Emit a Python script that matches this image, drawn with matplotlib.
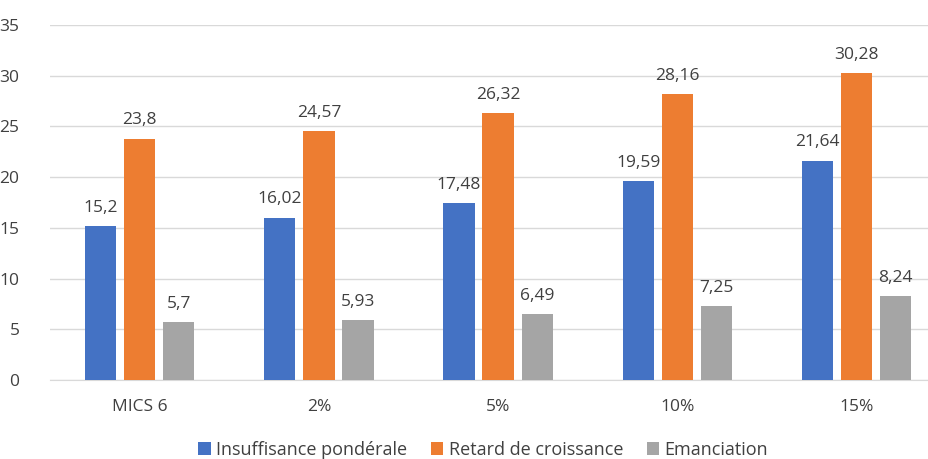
import numpy as np
import matplotlib.pyplot as plt

plt.rcParams['font.family'] = ['Open Sans', 'DejaVu Sans']

# data
categories = ['MICS 6', '2%', '5%', '10%', '15%']
insuffisance = [15.2, 16.02, 17.48, 19.59, 21.64]
retard = [23.8, 24.57, 26.32, 28.16, 30.28]
emanciation = [5.7, 5.93, 6.49, 7.25, 8.24]
labels_ins = ['15,2', '16,02', '17,48', '19,59', '21,64']
labels_ret = ['23,8', '24,57', '26,32', '28,16', '30,28']
labels_ema = ['5,7', '5,93', '6,49', '7,25', '8,24']

fig = plt.figure(figsize=(9.29, 4.59), dpi=100)
ax = fig.add_axes([50/929, 79/459, 879/929, 355/459])

x = np.arange(len(categories))
w = 0.175
off = 0.218
txt = '#404040'

series = [
    (insuffisance, labels_ins, '#4472C4', 'Insuffisance pondérale', -off),
    (retard, labels_ret, '#ED7D31', 'Retard de croissance', 0),
    (emanciation, labels_ema, '#A5A5A5', 'Emanciation', off),
]
for vals, labs, col, name, o in series:
    bars = ax.bar(x + o, vals, w, color=col, label=name, zorder=3)
    for b, lab in zip(bars, labs):
        ax.text(b.get_x() + b.get_width()/2, b.get_height() + 1.0, lab,
                ha='center', va='bottom', fontsize=12.5, color=txt)

ax.set_ylim(0, 35)
ax.set_yticks(range(0, 36, 5))
ax.set_xlim(-0.5, -0.5 + 879/179.25)
ax.set_xticks(x)
ax.set_xticklabels(categories)
ax.grid(axis='y', color='#D9D9D9', linewidth=1, zorder=0)
for s in ['top', 'right', 'left']:
    ax.spines[s].set_visible(False)
ax.spines['bottom'].set_color('#D9D9D9')
ax.tick_params(length=0, labelsize=12.5, colors=txt)
ax.tick_params(axis='x', pad=14)
ax.tick_params(axis='y', pad=22)

leg = fig.legend(loc='lower center', bbox_to_anchor=(0.52, -0.035), ncol=3,
                 frameon=False, fontsize=13, handlelength=0.7, handleheight=0.7,
                 handletextpad=0.3, columnspacing=1.3)
for t in leg.get_texts():
    t.set_color(txt)

fig.savefig('out.png', dpi=100)
